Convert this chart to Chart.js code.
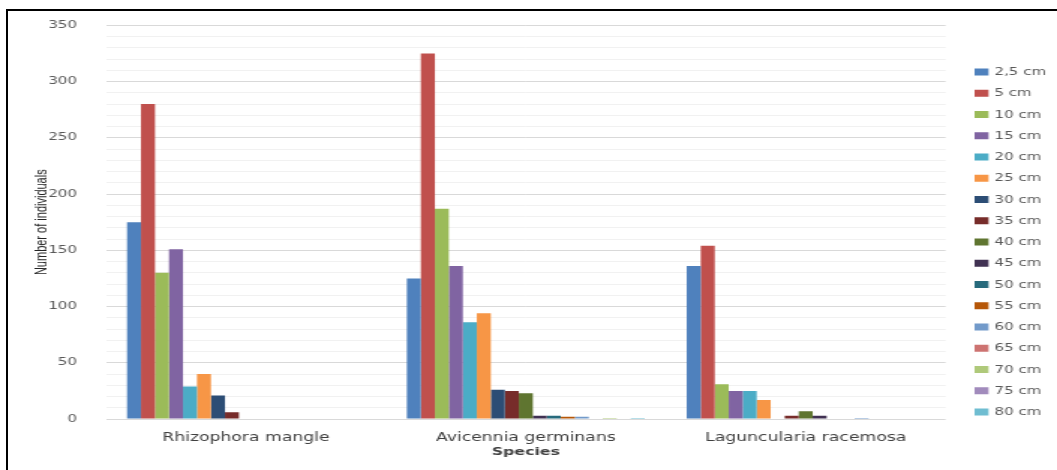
<!DOCTYPE html>
<html>
<head>
<meta charset="utf-8">
<script src="https://cdn.jsdelivr.net/npm/chart.js@4/dist/chart.umd.min.js"></script>
<style>
  html, body { margin: 0; padding: 0; background: #fff; }
  body { width: 1057px; height: 470px; position: relative; overflow: hidden; }
  #frame { position: absolute; left: 6px; top: 9px; width: 1100px; height: 500px;
           border-top: 2px solid #000; border-left: 2px solid #000; z-index: 2; pointer-events: none; }
  /* the chart is laid out narrow and widened horizontally */
  #wrap { position: absolute; left: 0; top: 0; width: 705px; height: 470px;
          transform: scaleX(1.4993); transform-origin: 0 0; }
</style>
</head>
<body>
<div id="wrap"><canvas id="c" width="705" height="470"></canvas></div>
<div id="frame"></div>
<script>
const species = ['Rhizophora mangle', 'Avicennia germinans', 'Laguncularia racemosa'];
const sizeClasses = ['2,5 cm', '5 cm', '10 cm', '15 cm', '20 cm', '25 cm', '30 cm', '35 cm', '40 cm',
                     '45 cm', '50 cm', '55 cm', '60 cm', '65 cm', '70 cm', '75 cm', '80 cm'];

// individuals per size class, in species order
const d2_5 = [175, 125, 136];
const d5   = [280, 325, 154];
const d10  = [130, 187, 31];
const d15  = [151, 136, 25];
const d20  = [29, 86, 25];
const d25  = [40, 94, 17];
const d30  = [21, 26, 0];
const d35  = [6, 25, 3];
const d40  = [0, 23, 7];
const d45  = [0, 3, 3];
const d50  = [0, 3, 0];
const d55  = [0, 2, 0];
const d60  = [0, 2, 1];
const d65  = [0, 0, 0];
const d70  = [0, 1, 0];
const d75  = [0, 0, 0];
const d80  = [0, 1, 0];

const yTicks = [0, 50, 100, 150, 200, 250, 300, 350];

const seriesValues = [d2_5, d5, d10, d15, d20, d25, d30, d35, d40, d45, d50, d55, d60, d65, d70, d75, d80];
const palette = ['#4F81BD', '#C0504D', '#9BBB59', '#8064A2', '#4BACC6', '#F79646', '#2C4D75', '#772C2A',
                 '#5F7530', '#403152', '#276A7C', '#B65708', '#729ACA', '#CD7371', '#AFC97A', '#A18BBC', '#6FBDD1'];

const datasets = sizeClasses.map((lab, i) => ({
  label: lab,
  data: seriesValues[i],
  backgroundColor: palette[i],
  borderWidth: 0
}));

// legend drawn as a column to the right of the plot
const sideLegend = {
  id: 'sideLegend',
  afterDraw(chart, args, o) {
    const ctx = chart.ctx;
    ctx.save();
    ctx.font = o.font;
    ctx.textBaseline = 'middle';
    ctx.textAlign = 'left';
    chart.data.datasets.forEach((ds, i) => {
      const y = o.top + i * o.step;
      ctx.fillStyle = ds.backgroundColor;
      ctx.fillRect(o.boxX, y - o.boxH / 2, o.boxW, o.boxH);
      ctx.fillStyle = o.color;
      ctx.fillText(ds.label, o.textX, y + 0.5);
    });
    ctx.restore();
  }
};

new Chart(document.getElementById('c'), {
  type: 'bar',
  data: { labels: species, datasets },
  plugins: [sideLegend],
  options: {
    responsive: false,
    animation: false,
    devicePixelRatio: 1,
    layout: { padding: { top: 25, right: 74.3, bottom: 0, left: 0 } },
    datasets: { bar: { categoryPercentage: 0.85, barPercentage: 1.0 } },
    plugins: {
      legend: { display: false },
      tooltip: { enabled: false },
      sideLegend: { top: 72, step: 21.25, boxX: 650, boxW: 9.3, boxH: 7, textX: 663.3,
                    font: '10px "DejaVu Sans"', color: '#595959' }
    },
    scales: {
      x: {
        grid: { display: false },
        border: { display: false },
        ticks: { color: '#404040', font: { family: 'DejaVu Sans', size: 11.5 }, padding: 4, maxRotation: 0 },
        title: { display: true, text: 'Species', color: '#404040',
                 font: { family: 'DejaVu Sans', size: 10.5, weight: 'bold' }, padding: { top: 0, bottom: 11.5 } },
        afterFit(scale) { scale.height = 51; }
      },
      y: {
        min: 0, max: 350,
        grid: {
          drawTicks: false,
          color: ctx => (yTicks.includes(ctx.tick.value) ? '#d9d9d9' : '#f1f1f1'),
          lineWidth: 1
        },
        border: { display: false },
        ticks: {
          stepSize: 10,
          autoSkip: false,
          padding: 19.4,
          color: '#595959',
          font: { family: 'DejaVu Sans', size: 10 },
          callback: v => (yTicks.includes(v) ? String(v) : '')
        },
        title: { display: true, text: 'Number of individuals', color: '#262626',
                 font: { family: 'Liberation Sans', size: 11 }, padding: { top: 21.4, bottom: 0 } },
        afterFit(scale) { scale.width = 70.7; }
      }
    }
  }
});
</script>
</body>
</html>
